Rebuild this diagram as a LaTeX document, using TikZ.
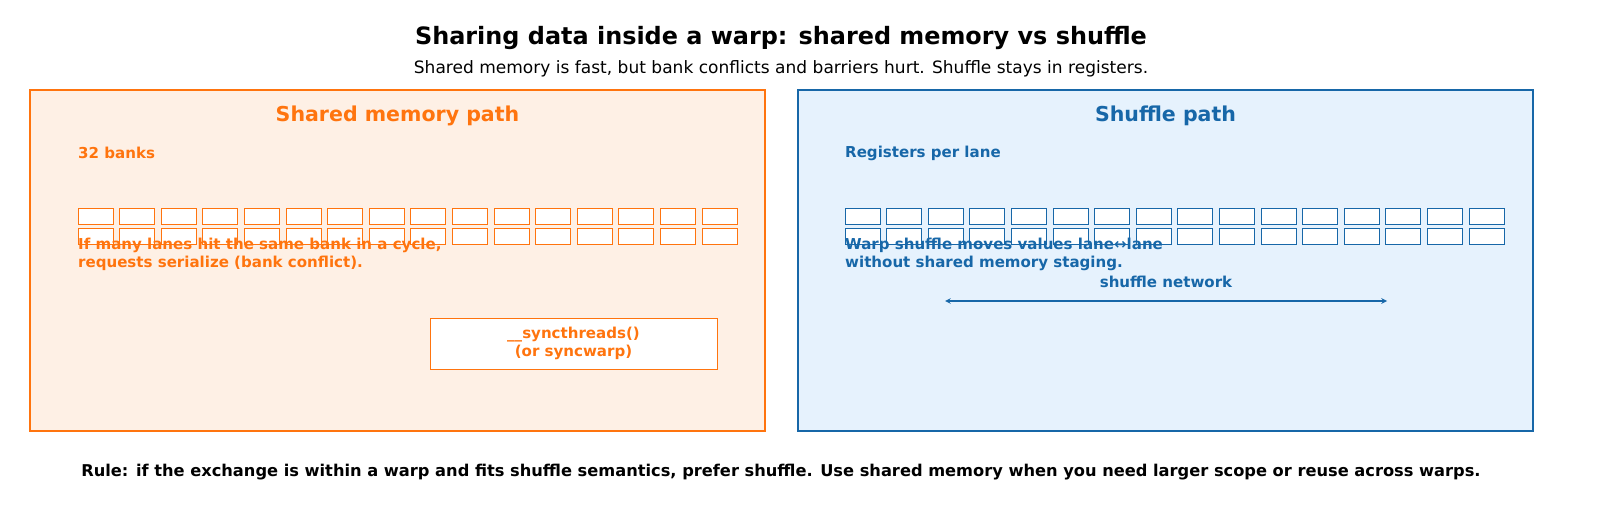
\documentclass[tikz,border=0pt]{standalone}
\usepackage{fontspec}
\setmainfont{DejaVu Sans}
\definecolor{org}{HTML}{FF740E}
\definecolor{orgf}{HTML}{FEF0E5}
\definecolor{blu}{HTML}{1767A8}
\definecolor{bluf}{HTML}{E6F2FD}
\begin{document}
\begin{tikzpicture}[x=1bp,y=-1bp,
  panel/.style={draw=#1,line width=1.8bp},
  cell/.style={draw=#1,fill=white,line width=0.8bp},
  lbl/.style={font=\fontsize{15.1}{17.5}\selectfont\bfseries,text=#1,inner sep=0pt}]
\useasboundingbox (0,0) rectangle (1600,532);
\node[font=\fontsize{24}{28}\selectfont\bfseries] (title) at (781,38) {Sharing data inside a warp: shared memory vs shuffle};
\node[font=\fontsize{17.1}{20}\selectfont] (sub) at (781,69) {Shared memory is fast, but bank conflicts and barriers hurt. Shuffle stays in registers.};
\draw[panel=org,fill=orgf] (30,90) rectangle (765,431);
\draw[panel=blu,fill=bluf] (798,90) rectangle (1533,431);
\node[font=\fontsize{20.6}{24}\selectfont\bfseries,text=org] (lt) at (397.5,116) {Shared memory path};
\node[font=\fontsize{20.6}{24}\selectfont\bfseries,text=blu] (rt) at (1165.5,116) {Shuffle path};
\node[lbl=org,anchor=west] (banks) at (78,153) {32 banks};
\node[lbl=blu,anchor=west] (regs) at (845,153) {Registers per lane};
\foreach \i in {0,...,15}{
  \draw[cell=org] (78+\i*41.6,208) rectangle ++(35,16);
  \draw[cell=org] (78+\i*41.6,228) rectangle ++(35,16);
  \draw[cell=blu] (845+\i*41.6,208) rectangle ++(35,16);
  \draw[cell=blu] (845+\i*41.6,228) rectangle ++(35,16);
}
\node[lbl=org,anchor=north west,align=left] (conf) at (78,238) {If many lanes hit the same bank in a cycle,\\requests serialize (bank conflict).};
\node[lbl=blu,anchor=north west,align=left] (wsh) at (845,238) {Warp shuffle moves values lane↔lane\\without shared memory staging.};
\node[draw=org,fill=white,line width=1bp,minimum width=287bp,minimum height=51bp,lbl=org,align=center] (sync) at (573.5,343.5) {\_\_syncthreads()\\(or syncwarp)};
\coordinate (a1) at (945,301);
\coordinate (a2) at (1387,301);
\draw[blu,line width=1.5bp,<->,>=stealth] (a1) -- (a2);
\node[lbl=blu] (net) at (1166,282) {shuffle network};
\node[font=\fontsize{16.3}{19}\selectfont\bfseries] (rule) at (781,472) {Rule: if the exchange is within a warp and fits shuffle semantics, prefer shuffle. Use shared memory when you need larger scope or reuse across warps.};
\end{tikzpicture}
\end{document}
